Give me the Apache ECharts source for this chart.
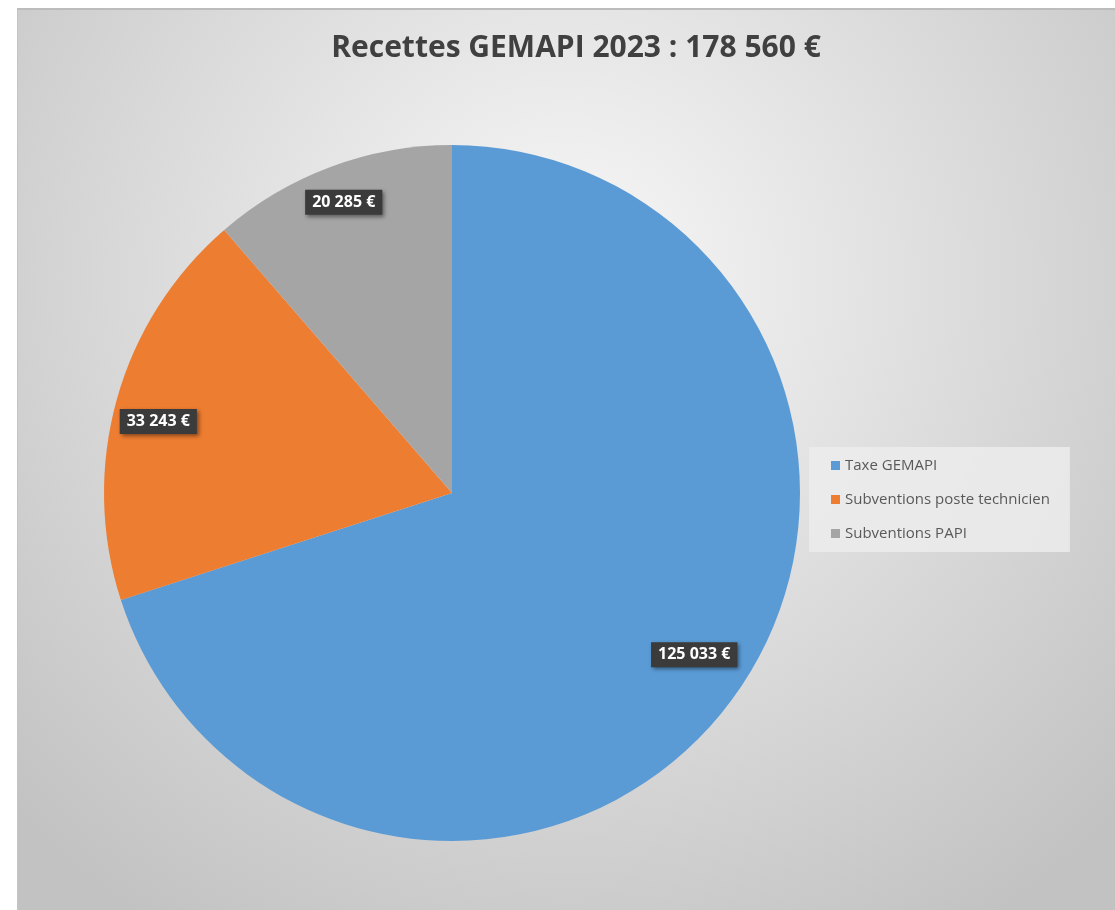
<!DOCTYPE html>
<html><head><meta charset="utf-8">
<script src="https://cdn.jsdelivr.net/npm/echarts@6/dist/echarts.min.js"></script>
<style>
html,body{margin:0;padding:0;background:#fff;width:1115px;height:910px;overflow:hidden}
#c{position:absolute;left:17px;top:8px;width:1098px;height:902px;border-top:2px solid #bcbcbc;border-left:1px solid #c4c4c4;box-sizing:border-box}
</style></head><body>
<div id="c"></div>
<script>
const titleText = 'Recettes GEMAPI 2023 : 178 560 €';
const categories = ['Taxe GEMAPI', 'Subventions poste technicien', 'Subventions PAPI'];
const values = [125033, 33243, 20285];
const colors = ['#5B9BD5', '#ED7D31', '#A5A5A5'];

function fmt(v){ return String(v).replace(/\B(?=(\d{3})+(?!\d))/g, ' ') + ' €'; }
const data = categories.map((n,i)=>({name:n, value:values[i], itemStyle:{color:colors[i]}}));
// small label nudges (style) to mimic Excel's best-fit placement
const labelNudge = [[-6,-19],[2,11],[-1,-3]];

const chart = echarts.init(document.getElementById('c'), null, {renderer:'canvas'});
chart.setOption({
  animation:false,
  backgroundColor:{type:'radial', x:0.5, y:0.3, r:0.85, colorStops:[{offset:0,color:'#f8f8f8'},{offset:1,color:'#c2c2c2'}]},
  title:{text:titleText, left:553, top:18, textAlign:'center',
    textStyle:{fontFamily:'Open Sans', fontWeight:'bold', fontSize:30, color:'#404040'}},
  legend:{orient:'vertical', left:791, top:437, data:categories,
    backgroundColor:'rgba(236,236,236,0.85)', padding:[11,20,11,22], itemGap:19,
    icon:'rect', itemWidth:9, itemHeight:9,
    textStyle:{fontFamily:'Open Sans', fontSize:15, color:'#595959'}},
  series:[
    {type:'pie', center:[434,483], radius:[0,348], startAngle:90, clockwise:true,
     data:data, label:{show:false}, labelLine:{show:false}, emphasis:{disabled:true}, silent:true},
    {type:'pie', center:[434,483], radius:[260,348], startAngle:90, clockwise:true,
     data:categories.map((n,i)=>({name:n, value:values[i], itemStyle:{color:'rgba(0,0,0,0)'},
       label:{offset:labelNudge[i]}})),
     legendHoverLink:false, silent:true, emphasis:{disabled:true},
     label:{show:true, position:'inside', formatter:p=>fmt(p.value),
       fontFamily:'Open Sans', fontWeight:'bold', fontSize:16, color:'#fff',
       backgroundColor:'#3b3b3b', padding:[5,7,4,7],
       shadowColor:'rgba(0,0,0,0.45)', shadowBlur:4, shadowOffsetX:2, shadowOffsetY:2},
     labelLine:{show:false}}
  ]
});
</script></body></html>
